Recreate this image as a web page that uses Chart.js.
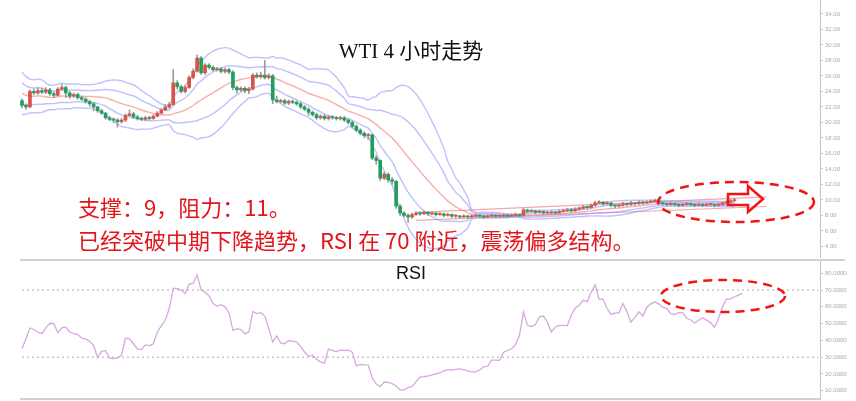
<!DOCTYPE html>
<html>
<head>
<meta charset="utf-8">
<script src="https://cdn.jsdelivr.net/npm/chart.js@4.4.1/dist/chart.umd.min.js"></script>
<style>
  html, body { margin: 0; padding: 0; background: #fff; }
  #wrap { position: relative; width: 856px; height: 401px; overflow: hidden; }
  canvas { position: absolute; left: 0; }
  .txt { position: absolute; white-space: nowrap; line-height: 1; }
  #title { left: 0; width: 822px; top: 34px; text-align: center; font: 21px "Liberation Serif", "Noto Sans CJK SC", serif; color: #111; }
  #rsiTitle { left: 0; width: 822px; top: 263px; text-align: center; font: 18px "Liberation Sans", Arial, sans-serif; color: #111; }
  .note { left: 78px; font: 22px "Noto Sans CJK SC", sans-serif; color: #e3151b; }
  #note1 { top: 190px; }
  #note2 { top: 223px; }
  svg { position: absolute; left: 0; top: 0; }
</style>
</head>
<body>
<div id="wrap">
  <canvas id="kline" width="856" height="258" style="top:0"></canvas>
  <canvas id="rsi" width="856" height="143" style="top:258px"></canvas>
  <div class="txt" id="title">WTI 4 小时走势</div>
  <div class="txt" id="rsiTitle">RSI</div>
  <div class="txt note" id="note1">支撑：9，阻力：11。</div>
  <div class="txt note" id="note2">已经突破中期下降趋势，RSI 在 70 附近，震荡偏多结构。</div>
  <svg width="856" height="401">
    <ellipse cx="736" cy="202" rx="78" ry="20" fill="none" stroke="#f01414" stroke-width="2.5" stroke-dasharray="9 6"/>
    <polygon points="728,194 748,194 748,186 763,199 748,212 748,205 728,205" fill="none" stroke="#f01414" stroke-width="2.5"/>
    <ellipse cx="723" cy="296" rx="62" ry="16" fill="none" stroke="#f01414" stroke-width="2.5" stroke-dasharray="9 6"/>
  </svg>
</div>
<script>
// 20 closes before the first visible bar, used to seed the bands
const warmup = [26.5, 27.0, 25.8, 24.5, 23.0, 24.6, 25.9, 25.2, 23.5, 22.2, 23.1, 24.4, 23.8, 22.4, 23.0, 24.1, 23.2, 22.1, 22.6, 22.3];
const firstOpen = 22.8;

const closes = [
  22.2, 22.0, 24.0, 23.8, 24.1, 23.9, 24.2, 23.7, 23.5, 24.3,
  24.5, 23.8, 23.4, 23.6, 23.2, 23.0, 22.7, 22.4, 22.0, 21.5,
  21.2, 20.6, 20.4, 20.3, 20.1, 20.3, 20.9, 21.1, 20.7, 20.5,
  20.4, 20.6, 20.5, 20.8, 21.2, 21.6, 22.0, 22.3, 25.1, 24.6,
  24.0, 24.5, 25.8, 26.6, 28.3, 26.4, 27.4, 27.1, 26.8, 26.9,
  26.6, 26.8, 26.5, 24.5, 24.2, 24.4, 24.1, 24.3, 26.1, 25.9,
  26.1, 25.8, 26.0, 22.9, 22.7, 22.8, 22.5, 22.7, 22.6, 22.4,
  22.0, 21.7, 21.3, 21.0, 20.6, 20.8, 20.5, 20.7, 20.6, 20.5,
  20.6, 20.3, 20.0, 19.5, 19.0, 18.6, 18.3, 18.4, 15.4, 15.1,
  12.8, 13.3, 12.6, 12.4, 9.2, 8.3, 8.0, 7.8, 8.1, 8.3,
  8.2, 8.4, 8.2, 8.3, 8.1, 8.2, 8.0, 8.1, 7.9, 7.9,
  7.8, 7.9, 7.8, 7.9, 8.0, 7.9, 7.8, 7.9, 8.0, 7.9,
  7.9, 8.0, 7.9, 8.0, 8.1, 8.0, 8.7, 8.5, 8.6, 8.4,
  8.5, 8.3, 8.3, 8.4, 8.3, 8.5, 8.6, 8.7, 8.6, 8.8,
  8.9, 9.1, 9.0, 9.3, 9.6, 9.7, 9.5, 9.6, 9.3, 9.2,
  9.3, 9.5, 9.4, 9.6, 9.5, 9.7, 9.6, 9.7, 9.8, 9.9,
  9.6, 9.5, 9.4, 9.5, 9.4, 9.3, 9.4, 9.5, 9.4, 9.3,
  9.4, 9.3, 9.4, 9.4, 9.3, 9.4, 9.6, 9.7, 9.9, 10.0
];

const highs = [
  23.0, 22.4, 24.2, 24.3, 24.4, 24.4, 24.5, 24.4, 23.9, 24.5,
  24.9, 24.7, 24.0, 23.8, 23.8, 23.4, 23.2, 22.9, 22.6, 22.1,
  21.7, 21.3, 20.8, 20.6, 20.5, 20.5, 21.1, 21.6, 21.3, 20.9,
  20.7, 20.8, 20.8, 21.0, 21.4, 21.8, 22.3, 22.6, 26.8, 25.4,
  24.8, 24.8, 26.0, 26.9, 28.7, 28.5, 27.6, 27.6, 27.3, 27.1,
  27.1, 27.0, 27.0, 26.7, 24.7, 24.6, 24.6, 24.5, 26.3, 26.4,
  26.5, 28.0, 26.3, 26.2, 23.4, 23.0, 23.0, 22.9, 22.9, 22.8,
  22.6, 22.2, 21.9, 21.5, 21.2, 21.0, 21.0, 20.9, 20.9, 20.8,
  20.8, 20.8, 20.5, 20.2, 19.7, 19.2, 18.8, 18.6, 18.5, 15.7,
  15.2, 13.6, 13.5, 12.9, 12.5, 9.4, 8.5, 8.2, 8.3, 8.5,
  8.5, 8.6, 8.5, 8.5, 8.4, 8.4, 8.3, 8.3, 8.2, 8.1,
  8.0, 8.1, 8.0, 8.1, 8.2, 8.1, 8.0, 8.1, 8.2, 8.1,
  8.1, 8.2, 8.1, 8.2, 8.3, 8.2, 8.9, 8.8, 8.8, 8.7,
  8.7, 8.6, 8.5, 8.6, 8.5, 8.7, 8.8, 8.9, 8.9, 9.0,
  9.1, 9.3, 9.2, 9.5, 9.8, 9.9, 9.8, 9.8, 9.7, 9.4,
  9.5, 9.7, 9.6, 9.8, 9.7, 9.9, 9.8, 9.9, 10.0, 10.1,
  10.0, 9.7, 9.6, 9.7, 9.6, 9.5, 9.6, 9.7, 9.6, 9.5,
  9.6, 9.5, 9.6, 9.6, 9.5, 9.6, 9.8, 9.9, 10.1, 10.2
];

const lows = [
  21.9, 21.7, 21.9, 23.6, 23.6, 23.7, 23.7, 23.5, 23.2, 23.4,
  24.1, 23.2, 23.1, 23.2, 23.0, 22.8, 22.5, 22.1, 21.5, 21.3,
  21.0, 20.4, 20.2, 20.0, 19.4, 19.9, 20.1, 20.8, 20.5, 20.3,
  20.2, 20.2, 20.3, 20.4, 20.7, 21.1, 21.5, 21.8, 22.2, 24.3,
  23.8, 23.8, 24.4, 25.6, 26.5, 26.2, 26.2, 26.9, 26.6, 26.6,
  26.4, 26.4, 26.3, 24.2, 23.8, 24.0, 23.8, 23.7, 24.2, 25.7,
  25.7, 25.6, 25.6, 22.4, 22.5, 22.5, 22.3, 22.3, 22.4, 22.2,
  21.8, 21.5, 20.9, 20.8, 20.4, 20.4, 20.3, 20.3, 20.4, 20.3,
  20.3, 20.1, 19.8, 19.3, 18.8, 18.4, 18.0, 17.8, 15.2, 14.6,
  12.5, 12.6, 12.3, 12.0, 8.9, 8.0, 7.8, 7.1, 7.6, 8.0,
  8.0, 8.1, 8.0, 8.1, 7.9, 8.0, 7.8, 7.9, 7.7, 7.7,
  7.6, 7.7, 7.6, 7.7, 7.8, 7.7, 7.6, 7.7, 7.8, 7.7,
  7.7, 7.8, 7.7, 7.8, 7.9, 7.8, 7.9, 8.3, 8.4, 8.2,
  8.3, 8.1, 8.1, 8.2, 8.1, 8.2, 8.4, 8.5, 8.4, 8.5,
  8.7, 8.8, 8.8, 8.9, 9.2, 9.5, 9.3, 9.4, 9.1, 9.0,
  9.1, 9.2, 9.2, 9.3, 9.3, 9.4, 9.4, 9.5, 9.6, 9.7,
  9.4, 9.3, 9.2, 9.3, 9.2, 9.1, 9.2, 9.3, 9.2, 9.1,
  9.2, 9.1, 9.2, 9.2, 9.1, 9.2, 9.3, 9.5, 9.6, 9.8
];

const rsiValues = [
  35, 41, 47.4, 46.5, 45, 44, 47.5, 50.2, 50, 44.5,
  47.5, 48, 45, 44, 43.5, 41.3, 40.8, 39.5, 37, 29.7,
  33.5, 34, 29.4, 29.2, 29.5, 31.3, 41.3, 41, 38, 35,
  34.5, 37.3, 36.8, 38, 45, 48.6, 52, 59, 71, 71,
  70, 68, 73.5, 74, 79, 70, 68.8, 66.5, 62, 60.5,
  61.3, 60, 56.5, 46, 47, 46.5, 44, 45, 57.2, 56,
  56.5, 54.5, 47, 39, 42.6, 38.5, 38, 40, 39.6, 39,
  36.5, 33.1, 30.5, 31.2, 28.8, 27.2, 26.5, 34.8, 34.1, 33.3,
  34.2, 34, 34.2, 33, 24.8, 25.7, 25.4, 25.3, 17.6, 14,
  12.5, 15.2, 15, 14.3, 12.8, 10.5, 10.5, 12, 12.5, 15.4,
  18.2, 18.4, 18.8, 19.5, 20.1, 20.6, 21.8, 22.6, 22.3, 22.7,
  23, 22.6, 21.9, 21.3, 21.3, 22.5, 24.3, 24.6, 28.3, 28.3,
  28.1, 33, 34, 35, 37.5, 43, 57, 49, 48.2, 49.5,
  54, 54.5, 51, 45, 48, 49, 49, 48.8, 55, 59.4,
  60.8, 64, 63, 68.8, 73, 64.6, 64.6, 59, 55.5, 56.2,
  56.5, 62, 57, 50.8, 53.7, 57, 54.5, 59.8, 61.8, 63,
  61.8, 59.8, 59.1, 56, 55.4, 56.5, 56.5, 53.2, 52.3, 50.4,
  52, 53.5, 52.1, 50.6, 47.8, 53.1, 60, 64.6, 64.6, 66,
  67, 68
];

// analyst channel lines: [bar index, price]
const channelUpper = [[99, 8.4], [187, 10.4]];
const channelLower = [[99, 7.35], [187, 9.15]];

const priceTicks = [4, 6, 8, 10, 12, 14, 16, 18, 20, 22, 24, 26, 28, 30, 32, 34];
const rsiTicks = [10, 20, 30, 40, 50, 60, 70, 80];
const rsiLevels = [70, 30];

const slotCount = 201; // bars plus empty room on the right
const labels = Array.from({ length: slotCount }, (_, i) => String(i));

const opens = closes.map((c, i) => (i === 0 ? firstOpen : closes[i - 1]));
const upColor = "rgb(218,82,72)";
const downColor = "rgb(32,158,92)";

function bollinger(period, k) {
  let all = warmup.concat(closes);
  let off = warmup.length;
  let mid = [], up = [], dn = [];
  for (let i = 0; i < closes.length; i++) {
    let win = all.slice(off + i - period + 1, off + i + 1);
    let m = win.reduce((a, b) => a + b, 0) / win.length;
    let sd = Math.sqrt(win.reduce((a, b) => a + (b - m) * (b - m), 0) / win.length);
    mid.push(m);
    up.push(m + k * sd);
    dn.push(m - k * sd);
  }
  return { mid, up, dn };
}

let outer = bollinger(20, 2);
let inner = bollinger(20, 1);

function lineSet(data, color, width, order) {
  return {
    type: "line", data: data, borderColor: color, borderWidth: width,
    pointRadius: 0, tension: 0.35, fill: false, order: order, spanGaps: true,
  };
}

// category axis wants the label string, not the number
function channelSet(points) {
  let ds = lineSet(points.map((p) => ({ x: String(p[0]), y: p[1] })), "rgba(240,110,110,0.6)", 1.2, 3);
  ds.tension = 0;
  return ds;
}

function rightAxis(min, max, ticks, digits) {
  return {
    position: "right", min: min, max: max,
    afterBuildTicks: (s) => { s.ticks = ticks.map((v) => ({ value: v })); },
    afterFit: (s) => { s.width = 36; s.paddingTop = 0; s.paddingBottom = 0; },
    ticks: {
      callback: (v) => Number(v).toFixed(digits),
      font: { family: "Liberation Sans", size: 6 }, color: "#a8a8a8", padding: 2,
    },
    grid: { drawOnChartArea: false, tickLength: 3, tickColor: "#c8c8c8" },
    border: { color: "#c4c4c4", width: 1 },
  };
}

const bandColor = "rgba(140,140,255,0.55)";
const maColor = "rgba(240,120,110,0.6)";

new Chart(document.getElementById("kline"), {
  type: "bar",
  data: {
    labels: labels,
    datasets: [
      {
        data: closes.map((c, i) => [opens[i], c]),
        backgroundColor: closes.map((c, i) => (c >= opens[i] ? upColor : downColor)),
        barThickness: 3, minBarLength: 1, grouped: false, order: 0,
      },
      {
        data: highs.map((h, i) => [lows[i], h]),
        backgroundColor: "#9a9a9a",
        barThickness: 1, grouped: false, order: 1,
      },
      lineSet(outer.up, bandColor, 1.4, 2),
      lineSet(inner.up, bandColor, 1.4, 2),
      lineSet(inner.dn, bandColor, 1.4, 2),
      lineSet(outer.dn, bandColor, 1.4, 2),
      lineSet(outer.mid, maColor, 1.4, 3),
      channelSet(channelUpper),
      channelSet(channelLower),
    ],
  },
  options: {
    responsive: false, animation: false, devicePixelRatio: 1,
    layout: { padding: { left: 20, top: 0, bottom: 0, right: 0 } },
    plugins: { legend: { display: false }, tooltip: { enabled: false } },
    scales: {
      x: { type: "category", display: false, offset: true },
      y: rightAxis(2.5, 35.8, priceTicks, 2),
    },
  },
});

const framePlugin = {
  id: "frame",
  afterDraw(chart) {
    let ctx = chart.ctx, a = chart.chartArea;
    ctx.save();
    ctx.strokeStyle = "#d2d2d2";
    ctx.lineWidth = 2;
    ctx.beginPath();
    ctx.moveTo(a.left, a.top);
    ctx.lineTo(845, a.top);
    ctx.moveTo(a.left, a.bottom);
    ctx.lineTo(a.right, a.bottom);
    ctx.stroke();
    ctx.restore();
  },
};

new Chart(document.getElementById("rsi"), {
  type: "line",
  data: {
    labels: labels,
    datasets: [
      {
        data: rsiValues, borderColor: "rgba(214,162,222,0.95)", borderWidth: 1.3,
        pointRadius: 0, tension: 0, fill: false,
      },
    ].concat(rsiLevels.map((lv) => ({
      data: labels.map(() => lv), borderColor: "#c6c6c6", borderWidth: 1.5,
      borderDash: [2, 3], pointRadius: 0, fill: false,
    }))),
  },
  options: {
    responsive: false, animation: false, devicePixelRatio: 1,
    layout: { padding: { left: 20, top: 2, bottom: 2, right: 0 } },
    plugins: { legend: { display: false }, tooltip: { enabled: false } },
    scales: {
      x: { type: "category", display: false, offset: true },
      y: rightAxis(5.1, 87.9, rsiTicks, 4),
    },
  },
  plugins: [framePlugin],
});
</script>
</body>
</html>
